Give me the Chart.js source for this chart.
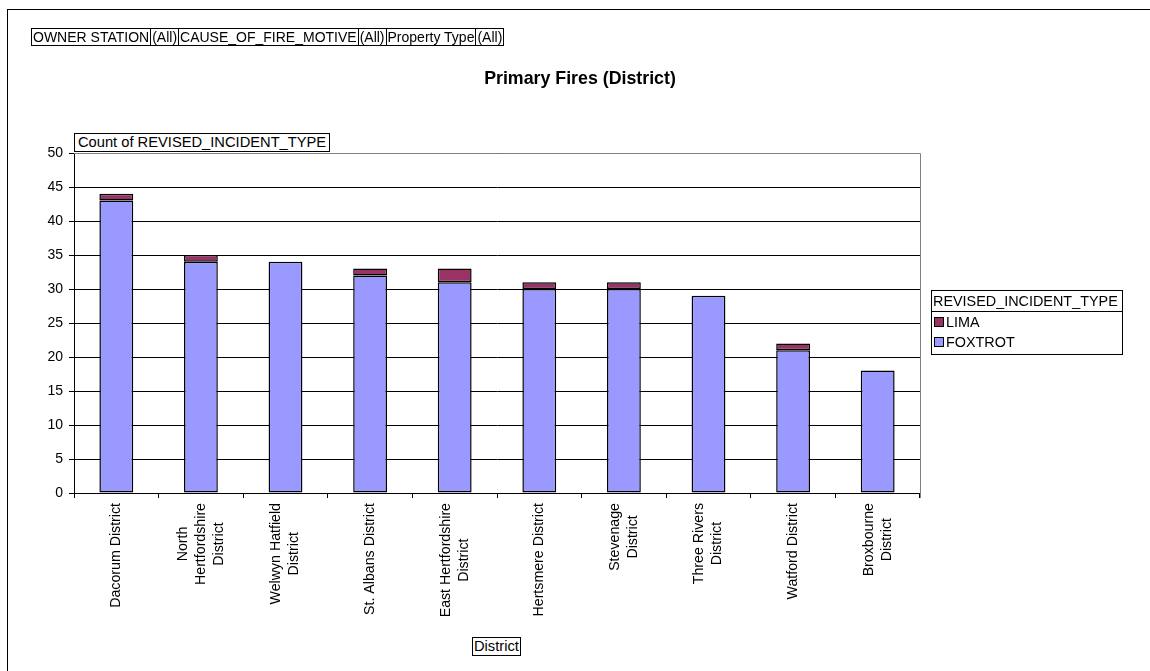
<!DOCTYPE html>
<html>
<head>
<meta charset="utf-8">
<script src="https://cdn.jsdelivr.net/npm/chart.js@4"></script>
<style>
  html, body { margin: 0; padding: 0; background: #fff; }
  body { width: 1150px; height: 671px; position: relative; overflow: hidden;
         font-family: "Liberation Sans", Arial, sans-serif; color: #000; }
  #frame { position: absolute; left: 7px; top: 9px; right: -2px; bottom: -2px;
           border-left: 1px solid #000; border-top: 1px solid #000; }
  #chartWrap { position: absolute; left: 0; top: 0; width: 1150px; height: 671px; }
  .box { position: absolute; border: 1px solid #000; background: #fff;
         font-size: 14.7px; line-height: 17px; padding: 0 3px; white-space: nowrap; }
  #filters { position: absolute; left: 31px; top: 28px; display: flex;
             border: 1px solid #000; font-size: 14px; line-height: 16px; }
  #filters span { border-right: 1px solid #000; padding: 0 1px; white-space: nowrap; }
  #filters span:last-child { border-right: none; }
  #title { position: absolute; left: 0; width: 1160px; top: 68px; text-align: center;
           font-weight: bold; font-size: 17.8px; }
  #legend { position: absolute; left: 931px; top: 290px; width: 190px;
            border: 1px solid #000; font-size: 14.4px; }
  #legend .head { border-bottom: 1px solid #000; padding: 2px 1px 1px; line-height: 17px; white-space: nowrap; }
  #legend .item { padding: 0 2px; line-height: 20px; display: flex; align-items: center; }
  #legend .sw { width: 8px; height: 8px; border: 1px solid #000; margin-right: 2px; }
</style>
</head>
<body>
<div id="frame"></div>
<div id="chartWrap"><canvas id="chartCanvas" width="1150" height="671"></canvas></div>

<div id="filters">
  <span>OWNER STATION</span><span>(All)</span><span>CAUSE_OF_FIRE_MOTIVE</span><span>(All)</span><span>Property Type</span><span>(All)</span>
</div>
<div id="title">Primary Fires (District)</div>
<div class="box" style="left:74px; top:133px;">Count of REVISED_INCIDENT_TYPE</div>
<div class="box" style="left:472px; top:637px; padding:0 1px;">District</div>
<div id="legend">
  <div class="head">REVISED_INCIDENT_TYPE</div>
  <div class="item"><div class="sw" style="background:#993366"></div>LIMA</div>
  <div class="item" style="padding-bottom:2px"><div class="sw" style="background:#9999FF"></div>FOXTROT</div>
</div>

<script>
// Chart data
const districts = [
    ['Dacorum District'],
    ['North', 'Hertfordshire', 'District'],
    ['Welwyn Hatfield', 'District'],
    ['St. Albans District'],
    ['East Hertfordshire', 'District'],
    ['Hertsmere District'],
    ['Stevenage', 'District'],
    ['Three Rivers', 'District'],
    ['Watford District'],
    ['Broxbourne', 'District']
];
const foxtrot = [43, 34, 34, 32, 31, 30, 30, 29, 21, 18];
const lima = [1, 1, 0, 1, 2, 1, 1, 0, 1, 0];
const yTicks = [0, 5, 10, 15, 20, 25, 30, 35, 40, 45, 50];

// Grey border round the plot area
const plotBorder = {
    id: 'plotBorder',
    afterDraw(chart) {
        const a = chart.chartArea;
        const c = chart.ctx;
        c.save();
        c.strokeStyle = '#808080';
        c.lineWidth = 1;
        c.beginPath();
        c.moveTo(a.left, a.top + 0.5);
        c.lineTo(a.right + 0.5, a.top + 0.5);
        c.lineTo(a.right + 0.5, a.bottom + 5);
        c.stroke();
        c.restore();
    }
};

// Rotated category labels, each wrapped line centred on the block
const xLabels = {
    id: 'xLabels',
    afterDraw(chart) {
        const scale = chart.scales.x;
        const c = chart.ctx;
        const lineH = 18;
        c.save();
        c.font = '14.2px "Liberation Sans", Arial, sans-serif';
        c.fillStyle = '#000';
        c.textAlign = 'center';
        c.textBaseline = 'middle';
        districts.forEach((lines, i) => {
            const x = scale.getPixelForValue(i);
            const w = Math.max(...lines.map(l => c.measureText(l).width));
            const yc = chart.chartArea.bottom + 10 + w / 2;
            lines.forEach((line, j) => {
                const lx = x + (j - (lines.length - 1) / 2) * lineH;
                c.save();
                c.translate(lx, yc);
                c.rotate(-Math.PI / 2);
                c.fillText(line, 0, 0);
                c.restore();
            });
        });
        c.restore();
    }
};

window.onload = function() {
    const ctx = document.getElementById('chartCanvas').getContext('2d');
    Chart.defaults.font.family = '"Liberation Sans", Arial, sans-serif';
    Chart.defaults.color = '#000';

    new Chart(ctx, {
        type: 'bar',
        data: {
            labels: districts,
            datasets: [
                {
                    label: 'FOXTROT',
                    data: foxtrot,
                    backgroundColor: '#9999FF',
                    borderColor: '#000',
                    borderWidth: 1.5,
                    borderSkipped: false,
                    barPercentage: 0.4,
                    categoryPercentage: 1.0
                },
                {
                    label: 'LIMA',
                    data: lima,
                    backgroundColor: '#993366',
                    borderColor: '#000',
                    borderWidth: 1.5,
                    borderSkipped: false,
                    barPercentage: 0.4,
                    categoryPercentage: 1.0
                }
            ]
        },
        options: {
            responsive: false,
            animation: false,
            layout: { padding: { left: 10, right: 230, top: 153, bottom: 10 } },
            plugins: {
                legend: { display: false },
                tooltip: { enabled: false }
            },
            scales: {
                x: {
                    stacked: true,
                    grid: { display: true, drawOnChartArea: false, offset: true,
                            color: '#000', tickLength: 5 },
                    border: { color: '#000' },
                    ticks: { display: false },
                    afterFit: function(scale) { scale.height = 168; }
                },
                y: {
                    stacked: true,
                    min: 0, max: 50,
                    afterBuildTicks: function(scale) {
                        scale.ticks = yTicks.map(v => ({ value: v }));
                    },
                    grid: { color: '#000', tickLength: 5 },
                    border: { color: '#000' },
                    ticks: { font: { size: 14 }, padding: 6 },
                    afterFit: function(scale) { scale.width = 64; }
                }
            }
        },
        plugins: [plotBorder, xLabels]
    });
};
</script>
</body>
</html>
